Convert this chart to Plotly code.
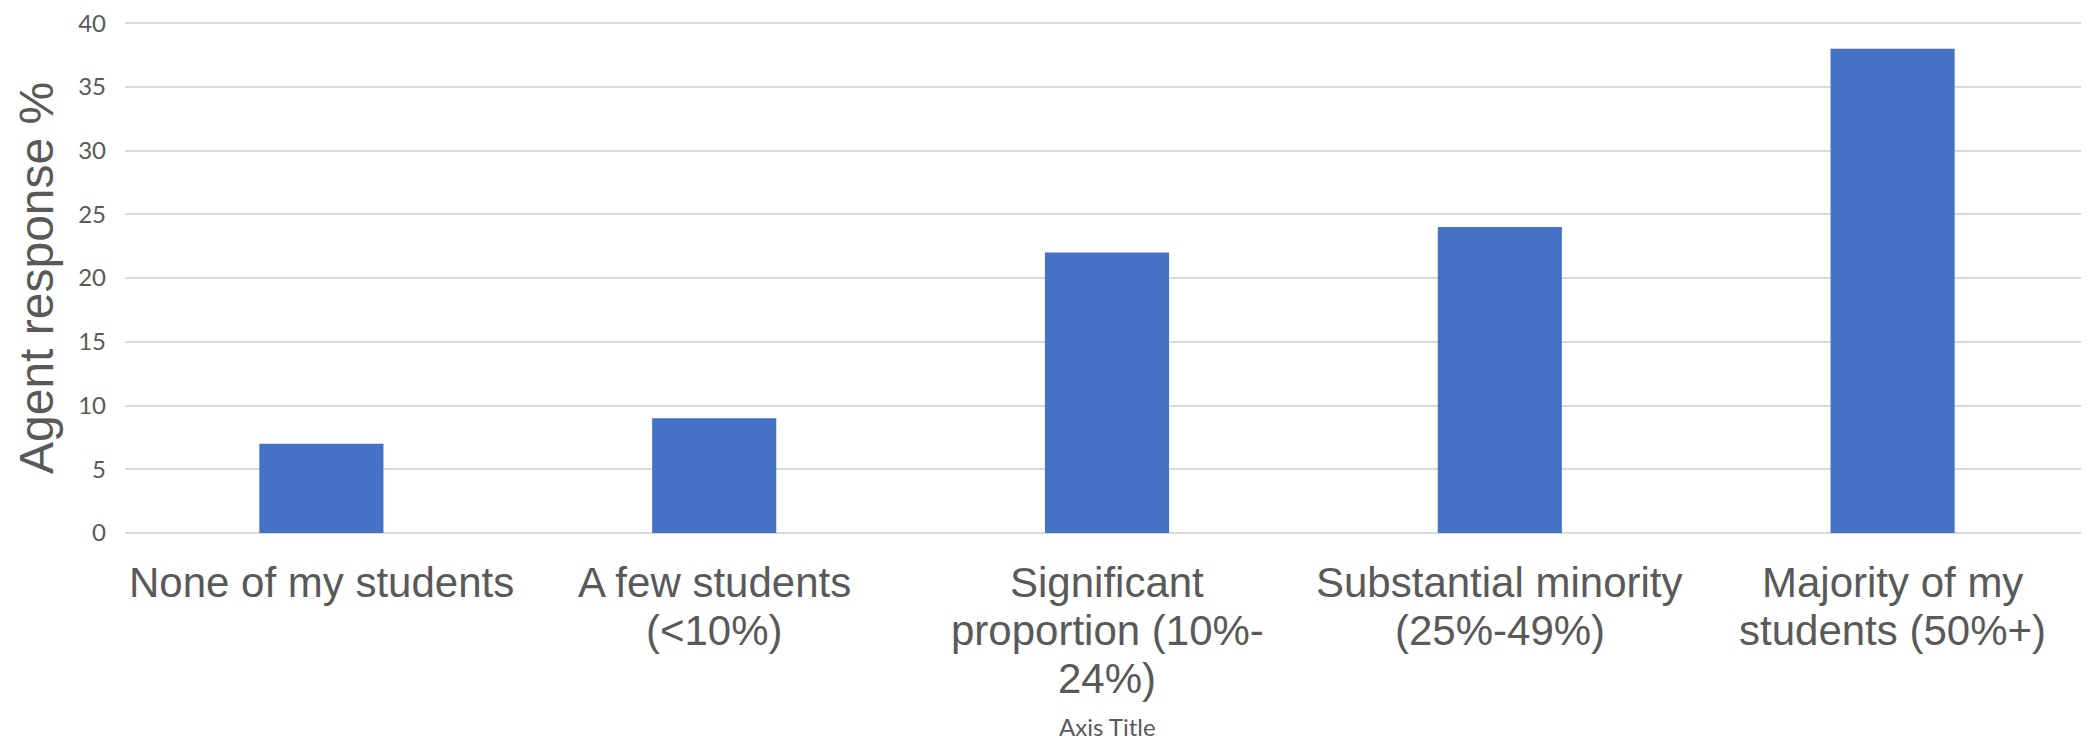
import plotly.graph_objects as go

categories = [
    "None of my students",
    "A few students (<10%)",
    "Significant proportion (10%-24%)",
    "Substantial minority (25%-49%)",
    "Majority of my students (50%+)",
]
category_label_lines = [
    ["None of my students"],
    ["A few students", "(&lt;10%)"],
    ["Significant", "proportion (10%-", "24%)"],
    ["Substantial minority", "(25%-49%)"],
    ["Majority of my", "students (50%+)"],
]
values = [7, 9, 22, 24, 38]
y_ticks = [0, 5, 10, 15, 20, 25, 30, 35, 40]
y_title = "Agent response %"
x_title = "Axis Title"

TEXT = "#595959"
GRID = "#D9D9D9"
BAR = "#4472C4"

# figure geometry (page body has an 8px margin)
W, H = 2081, 733
ML, MT, MB = 117, 10, 208
PLOT_H = H - MT - MB          # 515
PLOT_W = W - ML               # 1964
AXIS_Y = MT + PLOT_H          # figure y of the x axis
Y_MAX = 40.25                 # small headroom so the 40 gridline is drawn


def paper_y(fig_y):
    return -(fig_y - AXIS_Y) / PLOT_H


fig = go.Figure(
    go.Bar(
        x=categories,
        y=values,
        marker=dict(color=BAR, line=dict(width=0)),
        hoverinfo="x+y",
    )
)

annotations = [
    dict(
        text=y_title,
        xref="paper", yref="paper",
        x=(29 - ML) / PLOT_W, y=(PLOT_H - (277 - 8 - MT)) / PLOT_H,
        xanchor="center", yanchor="middle",
        textangle=-90,
        showarrow=False,
        font=dict(family="Liberation Sans, Arial, sans-serif", size=48, color=TEXT),
    ),
    dict(
        text=x_title,
        xref="paper", yref="paper",
        x=0.5, y=paper_y(719),
        xanchor="center", yanchor="middle",
        showarrow=False,
        borderpad=0,
        font=dict(family="Lato, sans-serif", size=24, color=TEXT),
    ),
]

LINE1_Y = 575
LINE_STEP = 48
for cat, lines in zip(categories, category_label_lines):
    for i, line in enumerate(lines):
        annotations.append(
            dict(
                text=line,
                xref="x", yref="paper",
                x=cat, y=paper_y(LINE1_Y + i * LINE_STEP),
                xanchor="center", yanchor="middle",
                showarrow=False,
                font=dict(family="Liberation Sans, Arial, sans-serif", size=42, color=TEXT),
            )
        )

fig.update_layout(
    width=W,
    height=H,
    margin=dict(l=ML, r=0, t=MT, b=MB, pad=0),
    paper_bgcolor="white",
    plot_bgcolor="white",
    bargap=0.684,
    showlegend=False,
    font=dict(family="Liberation Sans, Arial, sans-serif", color=TEXT),
    annotations=annotations,
)

fig.update_xaxes(
    showgrid=False,
    showline=False,
    ticks="",
    showticklabels=False,
)

fig.update_yaxes(
    range=[0, Y_MAX],
    tickvals=y_ticks,
    showgrid=True,
    gridcolor=GRID,
    gridwidth=1.5,
    zeroline=True,
    zerolinecolor=GRID,
    zerolinewidth=1.5,
    showline=False,
    ticks="",
    tickfont=dict(family="Lato, sans-serif", size=24, color=TEXT),
    ticklabelstandoff=18,
    ticklabeloverflow="allow",
)

fig.write_html("out.html")
